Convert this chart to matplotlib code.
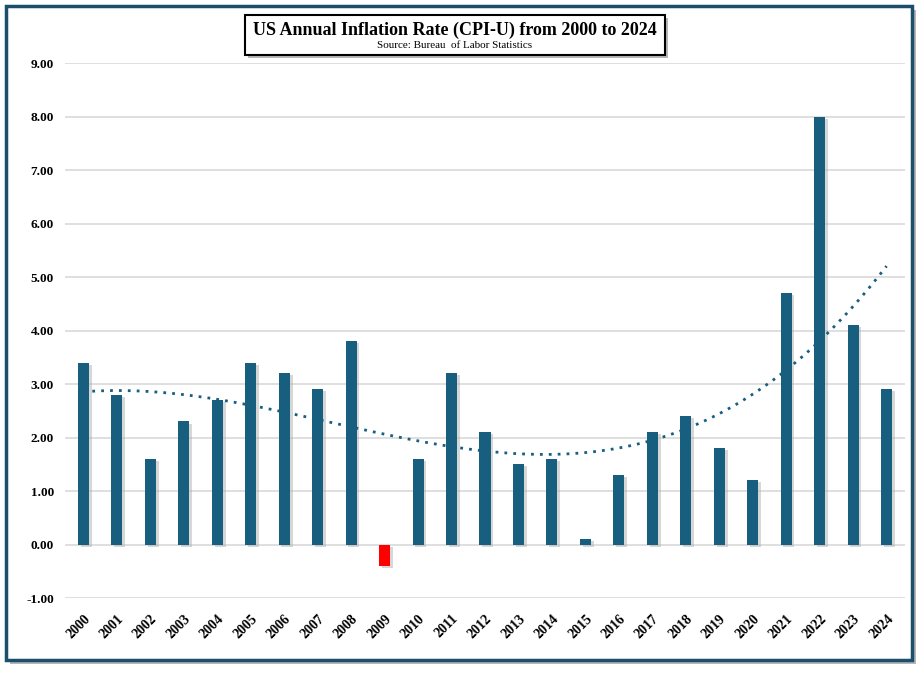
import numpy as np
import matplotlib
matplotlib.use("Agg")
from matplotlib import pyplot as plt
from matplotlib import patches
import matplotlib.patheffects as pe

# data
years = list(range(2000, 2025))
rates = [3.4, 2.8, 1.6, 2.3, 2.7, 3.4, 3.2, 2.9, 3.8, -0.4,
         1.6, 3.2, 2.1, 1.5, 1.6, 0.1, 1.3, 2.1, 2.4, 1.8,
         1.2, 4.7, 8.0, 4.1, 2.9]
y_ticks = [-1, 0, 1, 2, 3, 4, 5, 6, 7, 8, 9]

blue = '#175e7f'
serif = ['Liberation Serif', 'DejaVu Serif']

fig = plt.figure(figsize=(9.21, 6.75), dpi=100)
ax = fig.add_axes([0.0706, 0.114, 0.912, 0.7926])
ax.patch.set_alpha(0)

x = np.arange(len(years))
colors = ['#ff0000' if r < 0 else blue for r in rates]
shadow = [pe.SimplePatchShadow(offset=(2, -1.5), shadow_rgbFace='#b0b0b0', alpha=0.5), pe.Normal()]
bars = ax.bar(x, rates, width=0.33, color=colors, zorder=3)
for b in bars:
    b.set_path_effects(shadow)

# polynomial trendline (like excel)
coef = np.polyfit(x, rates, 3)
xs = np.linspace(0, len(years) - 1, 200)
ax.plot(xs, np.polyval(coef, xs), color=blue, linestyle=(0, (1, 2.2)), linewidth=2, zorder=4)

ax.set_xlim(-0.55, len(years) - 0.45)
ax.set_ylim(-1, 9)
ax.set_yticks(y_ticks)
ax.set_yticklabels(['%.2f' % v for v in y_ticks], fontfamily=serif, fontweight='bold', fontsize=9.5)
ax.set_xticks(x)
ax.set_xticklabels([str(y) for y in years], rotation=45, ha='right', rotation_mode='anchor',
                   fontfamily=serif, fontweight='bold', fontsize=10)
ax.grid(axis='y', color='#d9d9d9', linewidth=1.2, zorder=0)
ax.tick_params(axis='y', length=0, pad=8)
ax.tick_params(axis='x', length=0, pad=10)
for s in ax.spines.values():
    s.set_visible(False)

# outer frame with shadow
frame = patches.Rectangle((6 / 921, 1 - 660 / 675), 906 / 921, 654 / 675, transform=fig.transFigure,
                          facecolor='white', edgecolor='#1b4f6b', linewidth=2.5, zorder=-1)
frame.set_path_effects([pe.SimplePatchShadow(offset=(3, -3), shadow_rgbFace='#888888', alpha=0.6), pe.Normal()])
fig.add_artist(frame)

# title box
tbox = patches.Rectangle((245 / 921, 1 - 55 / 675), 420 / 921, 40 / 675, transform=fig.transFigure,
                         facecolor='white', edgecolor='black', linewidth=1.5, zorder=5)
tbox.set_path_effects([pe.SimplePatchShadow(offset=(2, -2), shadow_rgbFace='#888888', alpha=0.6), pe.Normal()])
fig.add_artist(tbox)
fig.text(455 / 921, 1 - 30 / 675, 'US Annual Inflation Rate (CPI-U) from 2000 to 2024', ha='center', va='center',
         fontfamily=serif, fontweight='bold', fontsize=13, zorder=6)
fig.text(455 / 921, 1 - 46 / 675, 'Source: Bureau  of Labor Statistics', ha='center', va='center',
         fontfamily=serif, fontsize=8, zorder=6)

fig.savefig('out.png', dpi=100)
